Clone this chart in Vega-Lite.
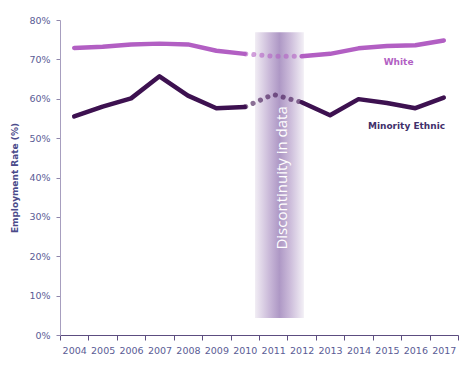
{
  "$schema": "https://vega.github.io/schema/vega-lite/v6.json",
  "width": 398,
  "height": 315,
  "autosize": {"type": "none"},
  "padding": {"left": 60, "top": 20, "right": 11, "bottom": 39},
  "background": "white",
  "config": {
    "view": {"stroke": null},
    "font": "DejaVu Sans",
    "axis": {"labelFont": "DejaVu Sans", "labelFontSize": 9.5, "labelColor": "#5a5c95", "grid": false}
  },
  "datasets": {
    "lines": [
      {"year": 2004, "value": 72.9, "series": "White", "seg": "a"},
      {"year": 2005, "value": 73.2, "series": "White", "seg": "a"},
      {"year": 2006, "value": 73.8, "series": "White", "seg": "a"},
      {"year": 2007, "value": 74.0, "series": "White", "seg": "a"},
      {"year": 2008, "value": 73.8, "series": "White", "seg": "a"},
      {"year": 2009, "value": 72.2, "series": "White", "seg": "a"},
      {"year": 2010, "value": 71.4, "series": "White", "seg": "a"},
      {"year": 2012, "value": 70.8, "series": "White", "seg": "b"},
      {"year": 2013, "value": 71.4, "series": "White", "seg": "b"},
      {"year": 2014, "value": 72.8, "series": "White", "seg": "b"},
      {"year": 2015, "value": 73.4, "series": "White", "seg": "b"},
      {"year": 2016, "value": 73.6, "series": "White", "seg": "b"},
      {"year": 2017, "value": 74.8, "series": "White", "seg": "b"},
      {"year": 2004, "value": 55.5, "series": "Minority Ethnic", "seg": "a"},
      {"year": 2005, "value": 58.0, "series": "Minority Ethnic", "seg": "a"},
      {"year": 2006, "value": 60.1, "series": "Minority Ethnic", "seg": "a"},
      {"year": 2007, "value": 65.7, "series": "Minority Ethnic", "seg": "a"},
      {"year": 2008, "value": 60.8, "series": "Minority Ethnic", "seg": "a"},
      {"year": 2009, "value": 57.6, "series": "Minority Ethnic", "seg": "a"},
      {"year": 2010, "value": 57.9, "series": "Minority Ethnic", "seg": "a"},
      {"year": 2012, "value": 59.1, "series": "Minority Ethnic", "seg": "b"},
      {"year": 2013, "value": 55.8, "series": "Minority Ethnic", "seg": "b"},
      {"year": 2014, "value": 59.9, "series": "Minority Ethnic", "seg": "b"},
      {"year": 2015, "value": 58.9, "series": "Minority Ethnic", "seg": "b"},
      {"year": 2016, "value": 57.6, "series": "Minority Ethnic", "seg": "b"},
      {"year": 2017, "value": 60.3, "series": "Minority Ethnic", "seg": "b"}
    ],
    "dotted": [
      {"year": 2010, "value": 71.4, "series": "White"},
      {"year": 2011, "value": 70.8, "series": "White"},
      {"year": 2012, "value": 70.8, "series": "White"},
      {"year": 2010, "value": 57.9, "series": "Minority Ethnic"},
      {"year": 2011, "value": 61.1, "series": "Minority Ethnic"},
      {"year": 2012, "value": 59.1, "series": "Minority Ethnic"}
    ],
    "band": [{"x": 2010.36, "x2": 2012.08, "value": 4.3, "value2": 76.9}],
    "labels": [
      {"xq": 2015.41, "value": 69.3, "label": "White", "series": "White"},
      {"xq": 2015.69, "value": 53.1, "label": "Minority Ethnic", "series": "Minority Ethnic"}
    ],
    "note": [{"xq": 2011.3, "value": 39.9, "label": "Discontinuity in data"}]
  },
  "encoding": {
    "y": {"field": "value", "type": "quantitative", "scale": {"domain": [0, 80], "nice": false, "zero": true}, "axis": {
      "values": [0, 10, 20, 30, 40, 50, 60, 70, 80],
      "labelExpr": "datum.value + '%'",
      "labelOverlap": false,
      "title": "Employment Rate (%)",
      "titleFont": "DejaVu Sans", "titleFontSize": 9, "titleFontWeight": "bold", "titleColor": "#4b4a8a",
      "titlePadding": 9,
      "domainColor": "#a79ebf", "tickColor": "#8f86ab", "tickSize": 4, "labelPadding": 6
    }}
  },
  "layer": [
    {
      "data": {"name": "band"},
      "mark": {
        "type": "rect",
        "fill": {
          "gradient": "linear", "x1": 0, "y1": 0, "x2": 1, "y2": 0,
          "stops": [
            {"offset": 0, "color": "#f1edf4"},
            {"offset": 0.3, "color": "#c9b8d8"},
            {"offset": 0.5, "color": "#ae98c5"},
            {"offset": 0.7, "color": "#c9b8d8"},
            {"offset": 1, "color": "#f3f0f6"}
          ]
        }
      },
      "encoding": {
        "x": {"field": "x", "type": "quantitative", "scale": {"domain": [2003.5, 2017.5], "nice": false, "zero": false}, "axis": null},
        "x2": {"field": "x2"},
        "y2": {"field": "value2"}
      }
    },
    {
      "data": {"name": "lines"},
      "mark": {"type": "line", "strokeWidth": 4.5, "strokeCap": "round", "strokeJoin": "round"},
      "encoding": {
        "x": {"field": "year", "type": "ordinal", "bandPosition": 0.5,
          "scale": {"type": "band", "paddingInner": 0, "paddingOuter": 0, "domain": [2004, 2005, 2006, 2007, 2008, 2009, 2010, 2011, 2012, 2013, 2014, 2015, 2016, 2017]},
          "axis": {"title": null, "labelAngle": 0, "tickBand": "extent", "domainColor": "#5c4d80", "tickColor": "#5c4d80", "tickSize": 5, "labelPadding": 5}},
        "detail": {"field": "seg"},
        "color": {"field": "series", "type": "nominal", "scale": {"domain": ["White", "Minority Ethnic"], "range": ["#b25fc3", "#3d1150"]}, "legend": null}
      }
    },
    {
      "data": {"name": "dotted"},
      "mark": {"type": "line", "strokeWidth": 5, "strokeCap": "round", "strokeDash": [0.1, 8], "strokeDashOffset": -9, "opacity": 0.6},
      "encoding": {
        "x": {"field": "year", "type": "ordinal", "bandPosition": 0.5, "axis": null,
          "scale": {"type": "band", "paddingInner": 0, "paddingOuter": 0, "domain": [2004, 2005, 2006, 2007, 2008, 2009, 2010, 2011, 2012, 2013, 2014, 2015, 2016, 2017]}},
        "color": {"field": "series", "type": "nominal", "scale": {"domain": ["White", "Minority Ethnic"], "range": ["#b25fc3", "#3d1150"]}, "legend": null}
      }
    },
    {
      "data": {"name": "labels"},
      "mark": {"type": "text", "font": "DejaVu Sans", "fontSize": 9, "fontWeight": "bold", "align": "center", "baseline": "middle"},
      "encoding": {
        "x": {"field": "xq", "type": "quantitative", "scale": {"domain": [2003.5, 2017.5], "nice": false, "zero": false}, "axis": null},
        "text": {"field": "label"},
        "color": {"field": "series", "type": "nominal", "scale": {"domain": ["White", "Minority Ethnic"], "range": ["#b25fc3", "#41306b"]}, "legend": null}
      }
    },
    {
      "data": {"name": "note"},
      "mark": {"type": "text", "font": "Open Sans", "fontSize": 15, "angle": 270, "align": "center", "baseline": "middle", "color": "white"},
      "encoding": {
        "x": {"field": "xq", "type": "quantitative", "scale": {"domain": [2003.5, 2017.5], "nice": false, "zero": false}, "axis": null},
        "text": {"field": "label"}
      }
    }
  ],
  "resolve": {"scale": {"x": "independent", "color": "independent"}}
}
